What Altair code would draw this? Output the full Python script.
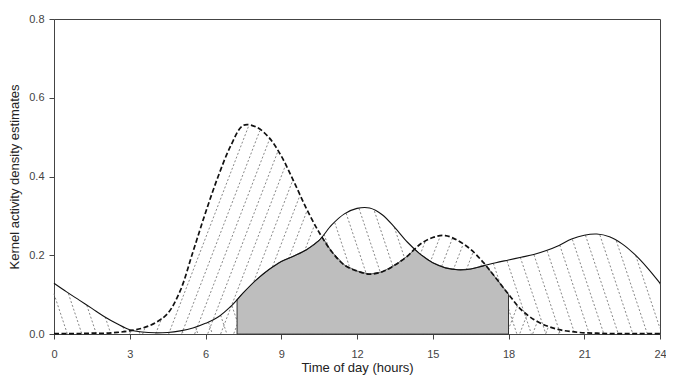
import altair as alt
import numpy as np
import pandas as pd

# ---- data ----
hours = [0.0, 0.5, 1.0, 1.5, 2.0, 2.5, 3.0, 3.5, 4.0, 4.5, 5.0, 5.5, 6.0, 6.5, 7.0, 7.5,
         8.0, 8.5, 9.0, 9.5, 10.0, 10.5, 11.0, 11.5, 12.0, 12.5, 13.0, 13.5, 14.0, 14.5,
         15.0, 15.5, 16.0, 16.5, 17.0, 17.5, 18.0, 18.5, 19.0, 19.5, 20.0, 20.5, 21.0,
         21.5, 22.0, 22.5, 23.0, 23.5, 24.0]

# solid curve
density_solid = [0.129, 0.107, 0.086, 0.065, 0.044, 0.026, 0.011, 0.005, 0.003, 0.004,
                 0.008, 0.015, 0.027, 0.043, 0.070, 0.105, 0.137, 0.163, 0.184, 0.198,
                 0.214, 0.238, 0.277, 0.305, 0.319, 0.320, 0.303, 0.270, 0.233, 0.203,
                 0.181, 0.168, 0.163, 0.165, 0.173, 0.181, 0.188, 0.195, 0.202, 0.212,
                 0.225, 0.241, 0.251, 0.254, 0.247, 0.229, 0.202, 0.168, 0.129]

# dashed curve
density_dashed = [0.001, 0.001, 0.001, 0.002, 0.002, 0.004, 0.008, 0.015, 0.028, 0.052,
                  0.110, 0.208, 0.308, 0.400, 0.478, 0.530, 0.526, 0.500, 0.452, 0.387,
                  0.318, 0.258, 0.209, 0.175, 0.160, 0.152, 0.158, 0.175, 0.198, 0.228,
                  0.245, 0.250, 0.237, 0.215, 0.182, 0.142, 0.101, 0.062, 0.037, 0.021,
                  0.011, 0.006, 0.003, 0.002, 0.001, 0.001, 0.001, 0.001, 0.001]

shade_start, shade_end = 7.25, 18.0
x_ticks = [0, 3, 6, 9, 12, 15, 18, 21, 24]
y_ticks = [0.0, 0.2, 0.4, 0.6, 0.8]

# ---- layout ----
W, H = 606, 315
X_MAX, Y_MAX = 24.0, 0.8

curves = pd.DataFrame({"hour": hours, "solid": density_solid, "dashed": density_dashed})

# derived tables
fine = np.round(np.arange(0, X_MAX + 1e-9, 0.01), 4)
fa = np.interp(fine, hours, density_solid)
fb = np.interp(fine, hours, density_dashed)

sel = (fine >= shade_start - 1e-9) & (fine <= shade_end + 1e-9)
overlap = pd.DataFrame({"hour": fine[sel], "dens": np.minimum(fa, fb)[sel]})


def hatch(f, direction, phase_h, spacing_px, slope_px):
    """Hatch segments under curve f; direction +1 for '/', -1 for '\\'."""
    k = slope_px * (W / X_MAX) / (H / Y_MAX)  # density units per hour
    spacing = spacing_px * X_MAX / W
    fmax = f.max()
    lo = -fmax / k - spacing if direction > 0 else -spacing
    hi = X_MAX + spacing if direction > 0 else X_MAX + fmax / k + spacing
    n0 = int(np.floor((lo - phase_h) / spacing))
    n1 = int(np.ceil((hi - phase_h) / spacing))
    rows = []
    for n in range(n0, n1 + 1):
        xb = phase_h + n * spacing
        line = direction * (fine - xb) * k
        inside = (line >= 0) & (line <= f)
        if not inside.any():
            continue
        idx = np.nonzero(inside)[0]
        breaks = np.nonzero(np.diff(idx) > 1)[0]
        starts = np.concatenate([[idx[0]], idx[breaks + 1]])
        ends = np.concatenate([idx[breaks], [idx[-1]]])
        for s, e in zip(starts, ends):
            y0, y1 = line[s], line[e]
            if abs(y1 - y0) < 0.004:
                continue
            rows.append({"x": fine[s], "y": y0, "x2": fine[e], "y2": y1})
    return pd.DataFrame(rows)


hatch_df = pd.concat([
    hatch(fb, +1, 3.51, 13.0, 2.6),
    hatch(fa, -1, 0.53, 14.5, 3.0),
], ignore_index=True)

xscale = alt.Scale(domain=[0, X_MAX], nice=False, zero=False)
yscale = alt.Scale(domain=[0, Y_MAX], nice=False)

x_axis = alt.Axis(values=x_ticks, format="d", title="Time of day (hours)", grid=False,
                  tickSize=5, labelPadding=9, titlePadding=2, labelFontSize=11,
                  titleFontSize=13, titleFontWeight="normal", labelFlush=False)
y_axis = alt.Axis(values=y_ticks, format=".1f", title="Kernel activity density estimates",
                  grid=False, tickSize=5, labelPadding=5, titlePadding=7, labelFontSize=11,
                  titleFontSize=13, titleFontWeight="normal")

hatch_layer = alt.Chart(hatch_df).mark_rule(
    color="#6a6a6a", strokeWidth=0.8, strokeDash=[2, 2]
).encode(
    x=alt.X("x:Q", scale=xscale, axis=x_axis),
    y=alt.Y("y:Q", scale=yscale, axis=y_axis),
    x2="x2:Q",
    y2="y2:Q",
)

shade_layer = alt.Chart(overlap).mark_area(
    color="#BEBEBE", stroke="#333333", strokeWidth=1, opacity=1
).encode(
    x=alt.X("hour:Q", scale=xscale),
    y=alt.Y("dens:Q", scale=yscale),
)

solid_layer = alt.Chart(curves).mark_line(
    color="#111111", strokeWidth=1.1, interpolate="catmull-rom"
).encode(
    x=alt.X("hour:Q", scale=xscale),
    y=alt.Y("solid:Q", scale=yscale),
)

dashed_layer = alt.Chart(curves).mark_line(
    color="#111111", strokeWidth=1.7, strokeDash=[5, 2.5], interpolate="catmull-rom"
).encode(
    x=alt.X("hour:Q", scale=xscale),
    y=alt.Y("dashed:Q", scale=yscale),
)

chart = alt.layer(hatch_layer, shade_layer, solid_layer, dashed_layer).properties(
    width=W, height=H,
    autosize=alt.AutoSizeParams(type="none"),
    padding={"left": 46, "top": 11, "right": 6, "bottom": 41},
    background="white",
).configure_view(
    stroke="#444444", strokeWidth=1
).configure_axis(
    domainColor="#444444", tickColor="#444444", labelColor="#444444",
    titleColor="#222222", labelFont="Liberation Sans", titleFont="Liberation Sans",
)

chart.save("out.html", embed_options={"renderer": "svg", "actions": False})
